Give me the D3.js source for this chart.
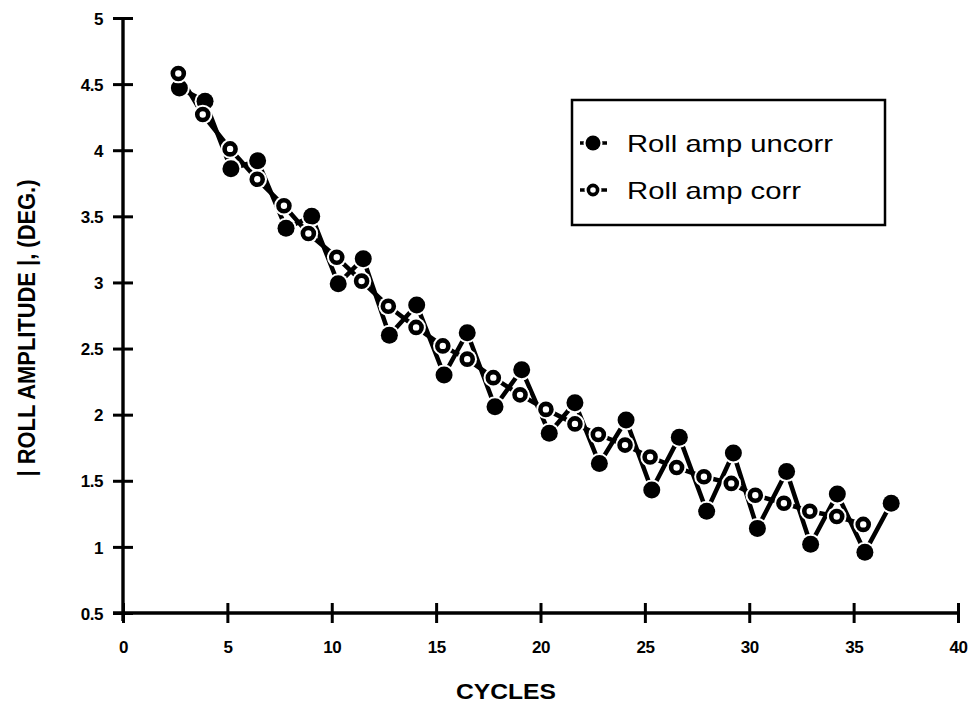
<!DOCTYPE html>
<html>
<head>
<meta charset="utf-8">
<script src="https://cdn.jsdelivr.net/npm/d3@7"></script>
<style>
html,body{margin:0;padding:0;background:#fff;}
svg{display:block;}
text{font-family:"Liberation Sans",Arial,Helvetica,sans-serif;fill:#000;}
</style>
</head>
<body>
<svg id="chart" width="969" height="706"></svg>
<script>
// ---- data ----
const cyclesUncorr = [2.70,3.93,5.17,6.45,7.81,9.04,10.31,11.51,12.76,14.07,15.38,16.49,17.82,19.10,20.42,21.65,22.82,24.10,25.33,26.65,27.96,29.24,30.39,31.79,32.94,34.22,35.54,36.80];
const rollAmpUncorr = [4.47,4.37,3.86,3.92,3.41,3.50,2.99,3.18,2.60,2.83,2.30,2.62,2.06,2.34,1.86,2.09,1.63,1.96,1.43,1.83,1.27,1.71,1.14,1.57,1.02,1.40,0.96,1.33];
const cyclesCorr = [2.65,3.82,5.13,6.43,7.71,8.88,10.24,11.43,12.71,14.04,15.32,16.49,17.74,19.02,20.26,21.65,22.77,24.05,25.25,26.52,27.83,29.14,30.29,31.66,32.90,34.19,35.46];
const rollAmpCorr = [4.58,4.27,4.01,3.78,3.58,3.37,3.19,3.01,2.82,2.66,2.52,2.42,2.28,2.15,2.04,1.93,1.85,1.77,1.68,1.60,1.53,1.48,1.39,1.33,1.27,1.23,1.17];
const xTicks = [0,5,10,15,20,25,30,35,40];
const yTicks = [0.5,1,1.5,2,2.5,3,3.5,4,4.5,5];
const yTickLabels = ["0.5","1","1.5","2","2.5","3","3.5","4","4.5","5"];
const seriesNames = ["Roll amp uncorr","Roll amp corr"];
const xTitle = "CYCLES";
const yTitle = "| ROLL AMPLITUDE |, (DEG.)";

// ---- layout ----
const svg = d3.select("#chart");
const x = d3.scaleLinear().domain([0,40]).range([123,958]);
const y = d3.scaleLinear().domain([0.5,5]).range([613,18]);

// axes
const yAxis = d3.axisLeft(y).tickValues(yTicks).tickSize(0).tickFormat((d,i)=>yTickLabels[i]);
const gy = svg.append("g").attr("transform","translate(123,0)").call(yAxis);
gy.select(".domain").remove();
gy.selectAll(".tick text").attr("x",-20).attr("dy","0.36em")
  .style("font-size","17px").style("font-weight","bold").style("font-family","'Liberation Sans',Arial,sans-serif")
  .attr("letter-spacing","-0.5");
gy.selectAll(".tick").append("line").attr("x1",-10).attr("x2",10).attr("stroke","#000").attr("stroke-width",3);
gy.append("line").attr("x1",0).attr("x2",0).attr("y1",y(5)-1).attr("y2",y(0.5)+8).attr("stroke","#000").attr("stroke-width",3.4);

const xAxis = d3.axisBottom(x).tickValues(xTicks).tickSize(0).tickFormat(d3.format("d"));
const gx = svg.append("g").attr("transform","translate(0,613)").call(xAxis);
gx.select(".domain").remove();
gx.selectAll(".tick text").attr("y",34).attr("dy","0.36em")
  .style("font-size","17px").style("font-weight","bold").style("font-family","'Liberation Sans',Arial,sans-serif")
  .attr("letter-spacing","-0.5");
gx.selectAll(".tick").append("line").attr("y1",-10).attr("y2",10).attr("stroke","#000").attr("stroke-width",3);
gx.append("line").attr("x1",113).attr("x2",x(40)).attr("y1",0).attr("y2",0).attr("stroke","#000").attr("stroke-width",3.4);

// titles
svg.append("text").attr("x",506).attr("y",699).attr("text-anchor","middle")
  .style("font-size","22px").style("font-weight","bold")
  .attr("textLength",100).attr("lengthAdjust","spacingAndGlyphs").text(xTitle);
svg.append("text").attr("transform","translate(35,328) rotate(-90)").attr("text-anchor","middle")
  .style("font-size","23px").style("font-weight","bold")
  .attr("textLength",297).attr("lengthAdjust","spacingAndGlyphs").text(yTitle);

// data
const uncorr = cyclesUncorr.map((c,i)=>({c, v: rollAmpUncorr[i]}));
const corr = cyclesCorr.map((c,i)=>({c, v: rollAmpCorr[i]}));
const line = d3.line().x(d=>x(d.c)).y(d=>y(d.v));

svg.append("path").datum(uncorr).attr("d",line).attr("fill","none").attr("stroke","#000").attr("stroke-width",4.5).attr("stroke-linejoin","round");
svg.append("path").datum(corr).attr("d",line).attr("fill","none").attr("stroke","#000").attr("stroke-width",4.5).attr("stroke-linejoin","round");

function filled(g, data){
  g.selectAll(null).data(data).enter().append("circle")
    .attr("cx",d=>x(d.c)).attr("cy",d=>y(d.v)).attr("r",10.5).attr("fill","#fff");
  g.selectAll(null).data(data).enter().append("circle")
    .attr("cx",d=>x(d.c)).attr("cy",d=>y(d.v)).attr("r",8.5).attr("fill","#000");
}
function open(g, data){
  g.selectAll(null).data(data).enter().append("circle")
    .attr("cx",d=>x(d.c)).attr("cy",d=>y(d.v)).attr("r",9.8).attr("fill","#fff");
  g.selectAll(null).data(data).enter().append("circle")
    .attr("cx",d=>x(d.c)).attr("cy",d=>y(d.v)).attr("r",5.5).attr("fill","#fff").attr("stroke","#000").attr("stroke-width",4.6);
}
filled(svg.append("g"), uncorr);
open(svg.append("g"), corr);

// legend
const lg = svg.append("g");
lg.append("rect").attr("x",572).attr("y",100).attr("width",313).attr("height",125)
  .attr("fill","#fff").attr("stroke","#000").attr("stroke-width",2.5);
const legendRows = [{name:seriesNames[0], y:143, type:"filled"},{name:seriesNames[1], y:190, type:"open"}];
legendRows.forEach(r=>{
  lg.append("line").attr("x1",580).attr("x2",607).attr("y1",r.y).attr("y2",r.y).attr("stroke","#000").attr("stroke-width",3.5);
  lg.append("circle").attr("cx",593).attr("cy",r.y).attr("r",r.type==="filled"?9.5:8.5).attr("fill","#fff");
  if(r.type==="filled"){
    lg.append("circle").attr("cx",593).attr("cy",r.y).attr("r",7.5).attr("fill","#000");
  } else {
    lg.append("circle").attr("cx",593).attr("cy",r.y).attr("r",4.6).attr("fill","#fff").attr("stroke","#000").attr("stroke-width",3.6);
  }
  lg.append("text").attr("x",627).attr("y",r.y+8.5).style("font-size","24px")
    .attr("textLength", r.type==="filled"?206:174).attr("lengthAdjust","spacingAndGlyphs").text(r.name);
});
</script>
</body>
</html>
